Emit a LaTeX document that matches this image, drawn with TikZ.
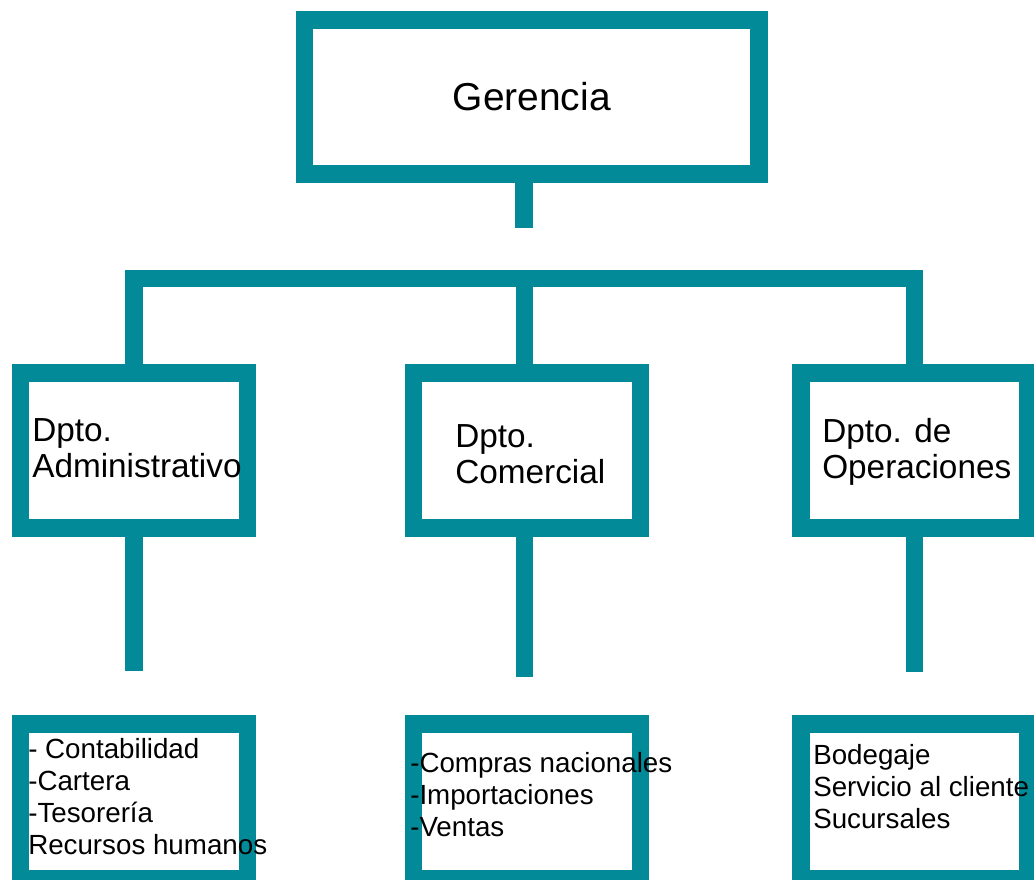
\documentclass[tikz,border=0pt]{standalone}
\usepackage{fontspec}
\setmainfont{Liberation Sans}
\definecolor{orgteal}{HTML}{028A99}
\begin{document}
\begin{tikzpicture}[x=0.75pt,y=-0.75pt,
        box/.style={draw=orgteal,line width=13.1pt,minimum width=170.25pt,minimum height=116.25pt,inner sep=0pt},
        link/.style={draw=orgteal,line width=13.1pt},
        big/.style={font=\fontsize{25}{27}\selectfont,align=left,anchor=base west,inner sep=0pt},
        small/.style={font=\fontsize{20.8}{24}\selectfont,align=left,anchor=base west,inner sep=0pt}]
        \clip(0,0)rectangle(1034,879);
        \node[box,minimum width=340.9pt,minimum height=115.5pt,font=\fontsize{29.2}{35}\selectfont](1)at(531.75,97){Gerencia};
        \node[box](2)at(134,450.5){};
        \node[box](3)at(527,450.5){};
        \node[box](4)at(914.5,450.5){};
        \node[box](5)at(134,801.5){};
        \node[box](6)at(527,801.5){};
        \node[box](7)at(914.5,801.5){};
        \coordinate(g)at(524,228);
        \coordinate(b)at(524.5,278.5);
        \coordinate(s2)at(134,671);
        \coordinate(s3)at(524.5,677);
        \coordinate(s4)at(914.5,672);
        \draw[link](g|-1.south)--(g);
        \draw[link](2.north)|-(b)-|(4.north);
        \draw[link](b)--(b|-3.north);
        \draw[link](2.south)--(s2);
        \draw[link](s3|-3.south)--(s3);
        \draw[link](4.south)--(s4);
        \node[big](8)at(32,477){Dpto.\\Administrativo};
        \node[big](9)at(455,483){Dpto.\\Comercial};
        \node[big](10)at(822,478){Dpto. de\\Operaciones};
        \node[small](11)at(28,854){- Contabilidad\\-Cartera\\-Tesorería\\Recursos humanos};
        \node[small](12)at(410,836.7){-Compras nacionales\\-Importaciones\\-Ventas};
        \node[small](13)at(813,828){Bodegaje\\Servicio al cliente\\Sucursales};
    \end{tikzpicture}
\end{document}
